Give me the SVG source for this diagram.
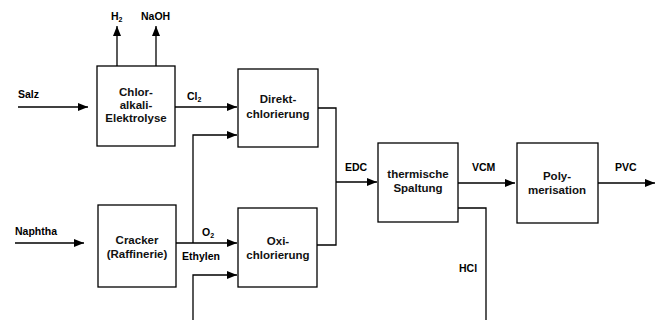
<svg xmlns="http://www.w3.org/2000/svg" width="660" height="320" viewBox="0 0 660 320">
<defs>
<marker id="ah" viewBox="0 0 10 8" refX="10" refY="4" markerWidth="10" markerHeight="8" markerUnits="userSpaceOnUse" orient="auto">
<path d="M0,0 L10,4 L0,8 Z" fill="#000"/>
</marker>
<style>
.box{fill:#fff;stroke:#000;stroke-width:1.3}
.nt{font-family:"Liberation Sans",Arial,sans-serif;font-size:11.5px;font-weight:bold;text-anchor:middle;fill:#111}
.lb{font-family:"Liberation Sans",Arial,sans-serif;font-size:10.5px;font-weight:bold;fill:#000}
.sub{font-size:7px}
.ln{fill:none;stroke:#000;stroke-width:1.3}
.ar{marker-end:url(#ah)}
</style>
</defs>
<rect width="660" height="320" fill="#fff"/>
<g id="connectors">
<path class="ln ar" d="M18,107 H88"/>
<path class="ln ar" d="M117,66 V26"/>
<path class="ln ar" d="M156,66 V26"/>
<path class="ln ar" d="M175,107 H237"/>
<path class="ln ar" d="M193,243 V135 H237"/>
<path class="ln ar" d="M176,243 H237"/>
<path class="ln ar" d="M193,320 V275 H237"/>
<path class="ln ar" d="M15,243 H84"/>
<path class="ln" d="M318,108 H336 V245 H317"/>
<path class="ln ar" d="M336,182 H377"/>
<path class="ln ar" d="M458,183 H515"/>
<path class="ln ar" d="M598,183 H655"/>
<path class="ln" d="M458,208 H486 V320"/>
</g>
<g id="labels">
<text class="lb" x="111" y="20">H<tspan class="sub" dy="2">2</tspan></text>
<text class="lb" x="141" y="20">NaOH</text>
<text class="lb" x="18" y="98">Salz</text>
<text class="lb" x="187" y="100">Cl<tspan class="sub" dy="2">2</tspan></text>
<text class="lb" x="15" y="235">Naphtha</text>
<text class="lb" x="202" y="236">O<tspan class="sub" dy="2">2</tspan></text>
<text class="lb" x="182" y="260">Ethylen</text>
<text class="lb" x="345" y="171">EDC</text>
<text class="lb" x="472" y="171">VCM</text>
<text class="lb" x="615" y="171">PVC</text>
<text class="lb" x="459" y="272">HCl</text>
</g>
<g id="chloralkali">
<rect class="box" x="97" y="66" width="78" height="80"/>
<text class="nt" x="136" y="96">Chlor-</text>
<text class="nt" x="136" y="109">alkali-</text>
<text class="nt" x="136" y="122">Elektrolyse</text>
</g>
<g id="direktchlorierung">
<rect class="box" x="238" y="69" width="80" height="78"/>
<text class="nt" x="278" y="103">Direkt-</text>
<text class="nt" x="278" y="118">chlorierung</text>
</g>
<g id="cracker">
<rect class="box" x="98" y="205" width="78" height="82"/>
<text class="nt" x="137" y="244">Cracker</text>
<text class="nt" x="137" y="258">(Raffinerie)</text>
</g>
<g id="oxichlorierung">
<rect class="box" x="238" y="208" width="79" height="79"/>
<text class="nt" x="278" y="245">Oxi-</text>
<text class="nt" x="278" y="259">chlorierung</text>
</g>
<g id="spaltung">
<rect class="box" x="378" y="143" width="80" height="79"/>
<text class="nt" x="418" y="178">thermische</text>
<text class="nt" x="418" y="192">Spaltung</text>
</g>
<g id="polymerisation">
<rect class="box" x="517" y="143" width="81" height="80"/>
<text class="nt" x="557" y="180">Poly-</text>
<text class="nt" x="557" y="194">merisation</text>
</g>
</svg>
